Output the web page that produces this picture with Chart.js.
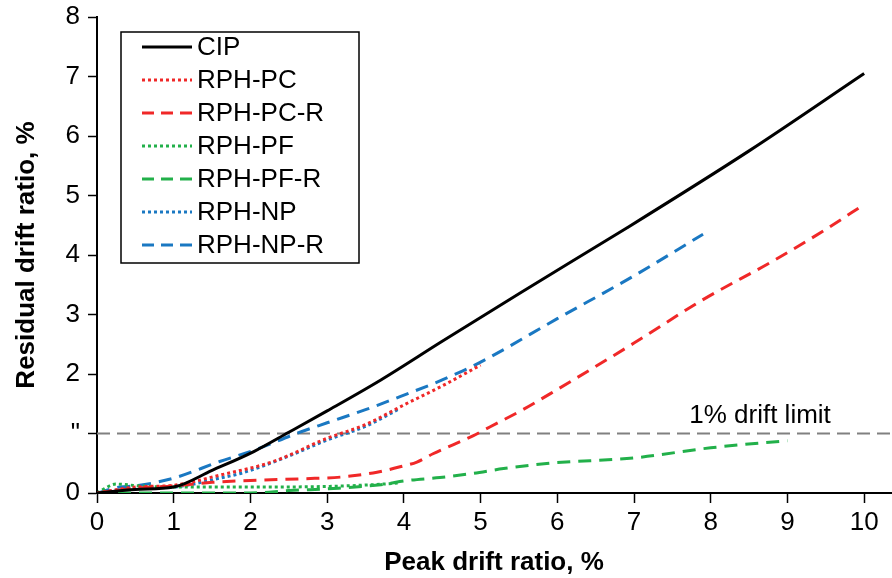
<!DOCTYPE html>
<html>
<head>
<meta charset="utf-8">
<script src="https://cdn.jsdelivr.net/npm/chart.js@4.4.0/dist/chart.umd.min.js"></script>
<style>
  html, body { margin: 0; padding: 0; background: #fff; }
  #wrap { width: 892px; height: 578px; }
</style>
</head>
<body>
<div id="wrap"><canvas id="chart" width="892" height="578"></canvas></div>
<script>
// values
const seriesNames = ["CIP", "RPH-PC", "RPH-PC-R", "RPH-PF", "RPH-PF-R", "RPH-NP", "RPH-NP-R"];

const cipX = [0, 0.5, 1, 1.5, 2.05, 2.5, 3, 3.7, 4.5, 5.5, 6.9, 8.5, 10];
const cipY = [0, 0.06, 0.1, 0.38, 0.7, 1.02, 1.38, 1.9, 2.55, 3.35, 4.45, 5.75, 7.05];

const pcX = [0, 0.5, 1, 1.6, 2.3, 3, 3.5, 4, 4.5, 5];
const pcY = [0, 0.1, 0.13, 0.3, 0.53, 0.92, 1.15, 1.48, 1.8, 2.15];

const pcrX = [0, 0.5, 1, 1.5, 2, 2.7, 3.2, 3.65, 3.95, 4.17, 4.38, 4.64, 4.9, 5.12, 5.55, 6, 7, 7.9, 8.8, 9.5, 10];
const pcrY = [0, 0.08, 0.12, 0.18, 0.21, 0.24, 0.27, 0.35, 0.44, 0.52, 0.66, 0.81, 0.96, 1.11, 1.4, 1.74, 2.52, 3.25, 3.89, 4.43, 4.85];

const pfX = [0, 0.25, 0.55, 1, 2, 3, 3.6, 3.95];
const pfY = [0, 0.15, 0.12, 0.1, 0.1, 0.11, 0.14, 0.17];

const pfrX = [0, 0.8, 2, 2.5, 3.15, 3.7, 4.05, 4.47, 4.9, 5.3, 5.9, 7, 8, 9];
const pfrY = [0, 0, 0, 0.04, 0.08, 0.14, 0.21, 0.26, 0.33, 0.41, 0.5, 0.59, 0.76, 0.88];

const npX = [0, 0.5, 1, 1.6, 1.9, 2.5, 3, 3.5, 3.95];
const npY = [0, 0.08, 0.1, 0.25, 0.34, 0.62, 0.89, 1.12, 1.42];

const nprX = [0, 0.3, 0.5, 1, 1.6, 2.05, 2.6, 3, 3.5, 3.95, 4.5, 5, 6, 7, 7.9];
const nprY = [0, 0.1, 0.12, 0.25, 0.53, 0.72, 1.0, 1.18, 1.4, 1.62, 1.9, 2.2, 2.93, 3.65, 4.35];

const xTicks = [0, 1, 2, 3, 4, 5, 6, 7, 8, 9, 10];
const yTicks = [0, 1, 2, 3, 4, 5, 6, 7, 8];
const yTickLabels = ["0", "\"", "2", "3", "4", "5", "6", "7", "8"];

const limitValue = 1;
const limitLabel = "1% drift limit";
const xMax = 10.35;

const FONT = "'Liberation Sans', Arial, sans-serif";
const RED = "#f02828", GREEN = "#22b04a", BLUE = "#1a78c2";
const DOT = [3, 3], DASH = [13, 8];

function pts(xs, ys) {
  return xs.map((x, i) => ({ x: x, y: ys[i] }));
}

function line(label, xs, ys, color, dash) {
  return {
    label: label,
    data: pts(xs, ys),
    borderColor: color,
    backgroundColor: color,
    borderWidth: 3,
    borderDash: dash,
    borderCapStyle: "butt",
    pointRadius: 0,
    cubicInterpolationMode: "monotone",
    fill: false
  };
}

const datasets = [
  line(seriesNames[0], cipX, cipY, "#000", []),
  line(seriesNames[1], pcX, pcY, RED, DOT),
  line(seriesNames[2], pcrX, pcrY, RED, DASH),
  line(seriesNames[3], pfX, pfY, GREEN, DOT),
  line(seriesNames[4], pfrX, pfrY, GREEN, DASH),
  line(seriesNames[5], npX, npY, BLUE, DOT),
  line(seriesNames[6], nprX, nprY, BLUE, DASH),
  {
    label: "limit",
    data: [{ x: 0, y: limitValue }, { x: xMax, y: limitValue }],
    borderColor: "#808080",
    borderWidth: 2,
    borderDash: [13, 7],
    pointRadius: 0,
    fill: false,
    hideInLegend: true
  }
];

// legend box drawn inside the plot, plus the limit caption
const boxLegend = {
  id: "boxLegend",
  afterDatasetsDraw(chart) {
    const ctx = chart.ctx;
    const area = chart.chartArea;
    const x0 = area.left + 24, y0 = area.top + 15;
    const w = 238, rowH = 33;
    const items = chart.data.datasets.filter(d => !d.hideInLegend);
    const h = rowH * items.length;
    ctx.save();
    ctx.fillStyle = "#fff";
    ctx.fillRect(x0, y0, w, h);
    ctx.strokeStyle = "#000";
    ctx.lineWidth = 1.5;
    ctx.strokeRect(x0, y0, w, h);
    ctx.font = "26px " + FONT;
    ctx.textBaseline = "middle";
    items.forEach((d, i) => {
      const cy = y0 + 15 + i * rowH;
      ctx.beginPath();
      ctx.setLineDash(d.borderDash.length ? (d.borderDash === DOT ? [3, 3] : [12, 7]) : []);
      ctx.strokeStyle = d.borderColor;
      ctx.lineWidth = 3;
      ctx.moveTo(x0 + 21, cy);
      ctx.lineTo(x0 + 71, cy);
      ctx.stroke();
      ctx.setLineDash([]);
      ctx.fillStyle = "#000";
      ctx.fillText(d.label, x0 + 76, cy + 1);
    });

    const xs = chart.scales.x, ys = chart.scales.y;
    ctx.textBaseline = "alphabetic";
    ctx.fillStyle = "#000";
    ctx.fillText(limitLabel, xs.getPixelForValue(7.72), ys.getPixelForValue(limitValue) - 11);
    ctx.restore();
  }
};

new Chart(document.getElementById("chart"), {
  type: "line",
  data: { datasets: datasets },
  options: {
    responsive: false,
    animation: false,
    events: [],
    layout: { padding: { top: 17, right: 1, left: 0, bottom: 0 } },
    plugins: { legend: { display: false }, tooltip: { enabled: false } },
    scales: {
      x: {
        type: "linear",
        min: 0,
        max: xMax,
        afterBuildTicks: s => { s.ticks = xTicks.map(v => ({ value: v })); },
        afterFit: s => { s.height = 85; },
        border: { display: true, color: "#000", width: 2 },
        grid: { drawOnChartArea: false, drawTicks: true, tickLength: 10, tickColor: "#000", tickWidth: 1.5 },
        ticks: { color: "#000", font: { family: FONT, size: 26 }, padding: 4, maxRotation: 0 },
        title: { display: true, text: "Peak drift ratio, %", color: "#000", font: { family: FONT, size: 26, weight: "bold" }, padding: { top: 0, bottom: 0 } }
      },
      y: {
        type: "linear",
        min: 0,
        max: 8,
        afterBuildTicks: s => { s.ticks = yTicks.map(v => ({ value: v })); },
        afterFit: s => { s.width = 97; s.paddingTop = 0; s.paddingBottom = 0; },
        border: { display: true, color: "#000", width: 2 },
        grid: { drawOnChartArea: false, drawTicks: true, tickLength: 9, tickColor: "#000", tickWidth: 1.5 },
        ticks: {
          color: "#000",
          font: { family: FONT, size: 26 },
          padding: 8,
          callback: v => yTickLabels[yTicks.indexOf(v)]
        },
        title: { display: true, text: "Residual drift ratio, %", color: "#000", font: { family: FONT, size: 26, weight: "bold" }, padding: { top: 11, bottom: 0 } }
      }
    }
  },
  plugins: [boxLegend]
});
</script>
</body>
</html>
